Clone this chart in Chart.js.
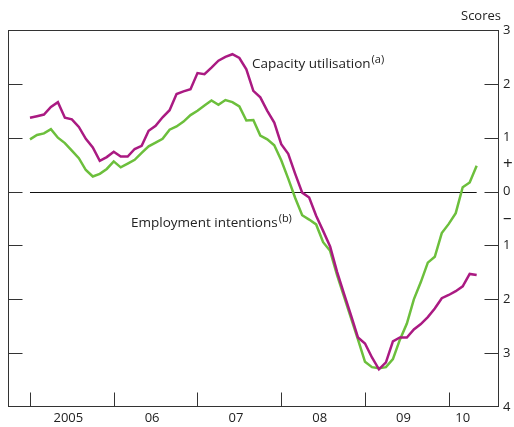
<!DOCTYPE html>
<html>
<head>
<meta charset="utf-8">
<script src="https://cdn.jsdelivr.net/npm/chart.js@4/dist/chart.umd.min.js"></script>
<style>
  html, body { margin: 0; padding: 0; background: #fff; }
  #wrap { width: 514px; height: 427px; position: relative; }
</style>
</head>
<body>
<div id="wrap"><canvas id="chart"></canvas></div>
<script>
// Monthly scores, Jan 2005 to May 2010
const years = ["2005", "06", "07", "08", "09", "10"];

const capacity = [
  1.37, 1.40, 1.43, 1.57, 1.66, 1.37, 1.34, 1.20, 0.98, 0.82, 0.57, 0.64,
  0.74, 0.65, 0.65, 0.79, 0.85, 1.13, 1.22, 1.38, 1.51, 1.81, 1.86, 1.90,
  2.20, 2.18, 2.30, 2.43, 2.50, 2.55, 2.48, 2.27, 1.87, 1.75, 1.50, 1.28,
  0.88, 0.70, 0.33, -0.02, -0.11, -0.45, -0.73, -1.02, -1.49, -1.90, -2.30, -2.71,
  -2.82, -3.08, -3.30, -3.17, -2.78, -2.71, -2.71, -2.56, -2.46, -2.33, -2.17, -1.98,
  -1.92, -1.85, -1.76, -1.53, -1.55,
];

const employment = [
  0.97, 1.05, 1.08, 1.16, 1.00, 0.90, 0.76, 0.62, 0.40, 0.28, 0.33, 0.42,
  0.56, 0.45, 0.52, 0.59, 0.72, 0.84, 0.91, 0.98, 1.15, 1.21, 1.30, 1.42,
  1.50, 1.60, 1.69, 1.61, 1.70, 1.66, 1.58, 1.32, 1.33, 1.04, 0.97, 0.86,
  0.58, 0.24, -0.12, -0.44, -0.52, -0.61, -0.94, -1.10, -1.55, -1.95, -2.35, -2.75,
  -3.16, -3.26, -3.28, -3.26, -3.11, -2.75, -2.45, -2.00, -1.68, -1.32, -1.21, -0.77,
  -0.60, -0.40, 0.08, 0.17, 0.48,
];

// right-hand axis: values and the text shown for them
const yTickValues = [3, 2, 1, 0.5, 0, -0.5, -1, -2, -3, -4];
const yTickText = ["3", "2", "1", "+", "0", "\u2013", "1", "2", "3", "4"];

const MAGENTA = "#aa1a82";
const GREEN = "#6cbf3c";
const INK = "#222";
const FONT = "'Open Sans', sans-serif";

const lastIndex = capacity.length - 1;

// year label sits in the middle of the months shown for that year
const yearMid = years.map((y, k) => {
  const first = k * 12;
  const last = Math.min(k * 12 + 11, lastIndex);
  return (first + last) / 2;
});

const toPoints = (arr) => arr.map((v, i) => ({ x: i, y: v }));

Chart.defaults.font.family = FONT;
Chart.defaults.font.size = 13;
Chart.defaults.color = INK;

const framePlugin = {
  id: "frame",
  beforeDatasetsDraw(chart) {
    const { ctx, scales } = chart;
    const x = scales.x;
    const y = scales.y;
    const zeroY = Math.round(y.getPixelForValue(0)) + 0.5;

    ctx.save();
    ctx.strokeStyle = "#111";
    ctx.lineWidth = 1;
    ctx.beginPath();
    ctx.moveTo(x.getPixelForValue(0), zeroY);
    ctx.lineTo(x.getPixelForValue(lastIndex), zeroY);
    ctx.stroke();
    ctx.restore();
  },
  afterDraw(chart) {
    const { ctx, chartArea, scales } = chart;
    const x = scales.x;
    const y = scales.y;
    const L = chartArea.left + 0.5;
    const R = chartArea.right - 0.5;
    const T = chartArea.top + 0.5;
    const B = chartArea.bottom - 0.5;
    const tick = 14;

    ctx.save();
    ctx.strokeStyle = "#333";
    ctx.lineWidth = 1;
    ctx.strokeRect(L, T, R - L, B - T);

    ctx.beginPath();
    // inner ticks on both vertical axes
    for (let v = 2; v >= -3; v--) {
      const py = Math.round(y.getPixelForValue(v)) + 0.5;
      ctx.moveTo(L, py);
      ctx.lineTo(L + tick, py);
      ctx.moveTo(R, py);
      ctx.lineTo(R - tick, py);
    }
    // year boundaries on the bottom axis
    for (let k = 0; k * 12 <= lastIndex; k++) {
      const px = Math.round(x.getPixelForValue(k * 12)) + 0.5;
      ctx.moveTo(px, B);
      ctx.lineTo(px, B - tick);
    }
    ctx.stroke();

    // unit label
    ctx.fillStyle = INK;
    ctx.font = "13px " + FONT;
    ctx.textAlign = "right";
    ctx.textBaseline = "alphabetic";
    ctx.fillText("Scores", chartArea.right + 2, chartArea.top - 10);

    // series labels with superscript notes
    const label = (text, note, px, py) => {
      ctx.textAlign = "left";
      ctx.font = "13.5px " + FONT;
      ctx.fillText(text, px, py);
      const w = ctx.measureText(text).width;
      ctx.font = "11px " + FONT;
      ctx.fillText(note, px + w + 1, py - 5);
    };
    label("Capacity utilisation", "(a)", 252, 68);
    label("Employment intentions", "(b)", 131, 227);
    ctx.restore();
  },
};

new Chart(document.getElementById("chart"), {
  type: "line",
  data: {
    datasets: [
      {
        label: "Capacity utilisation",
        data: toPoints(capacity),
        borderColor: MAGENTA,
        borderWidth: 2.5,
        pointRadius: 0,
        tension: 0,
      },
      {
        label: "Employment intentions",
        data: toPoints(employment),
        borderColor: GREEN,
        borderWidth: 2.5,
        pointRadius: 0,
        tension: 0,
      },
    ],
  },
  options: {
    responsive: true,
    maintainAspectRatio: false,
    animation: false,
    layout: { padding: { left: 8, top: 30, right: 0, bottom: 0 } },
    plugins: {
      legend: { display: false },
      tooltip: { enabled: false },
    },
    scales: {
      x: {
        type: "linear",
        min: -3.15,
        max: 67.2,
        grid: { display: false, drawTicks: false },
        border: { display: false },
        afterBuildTicks(scale) {
          scale.ticks = yearMid.map((v) => ({ value: v }));
        },
        afterFit(scale) {
          scale.height = 20;
        },
        ticks: {
          padding: 3,
          maxRotation: 0,
          autoSkip: false,
          callback: (value, index) => years[index],
        },
      },
      y: {
        position: "right",
        min: -4,
        max: 3,
        grid: { display: false, drawTicks: false },
        border: { display: false },
        afterBuildTicks(scale) {
          scale.ticks = yTickValues.map((v) => ({ value: v }));
        },
        afterFit(scale) {
          scale.width = 15;
        },
        ticks: {
          padding: 4,
          autoSkip: false,
          font: (c) =>
            c.tick && Math.abs(c.tick.value) === 0.5
              ? { size: 17, family: FONT }
              : { size: 13, family: FONT },
          callback: (value, index) => yTickText[index],
        },
      },
    },
  },
  plugins: [framePlugin],
});
</script>
</body>
</html>
